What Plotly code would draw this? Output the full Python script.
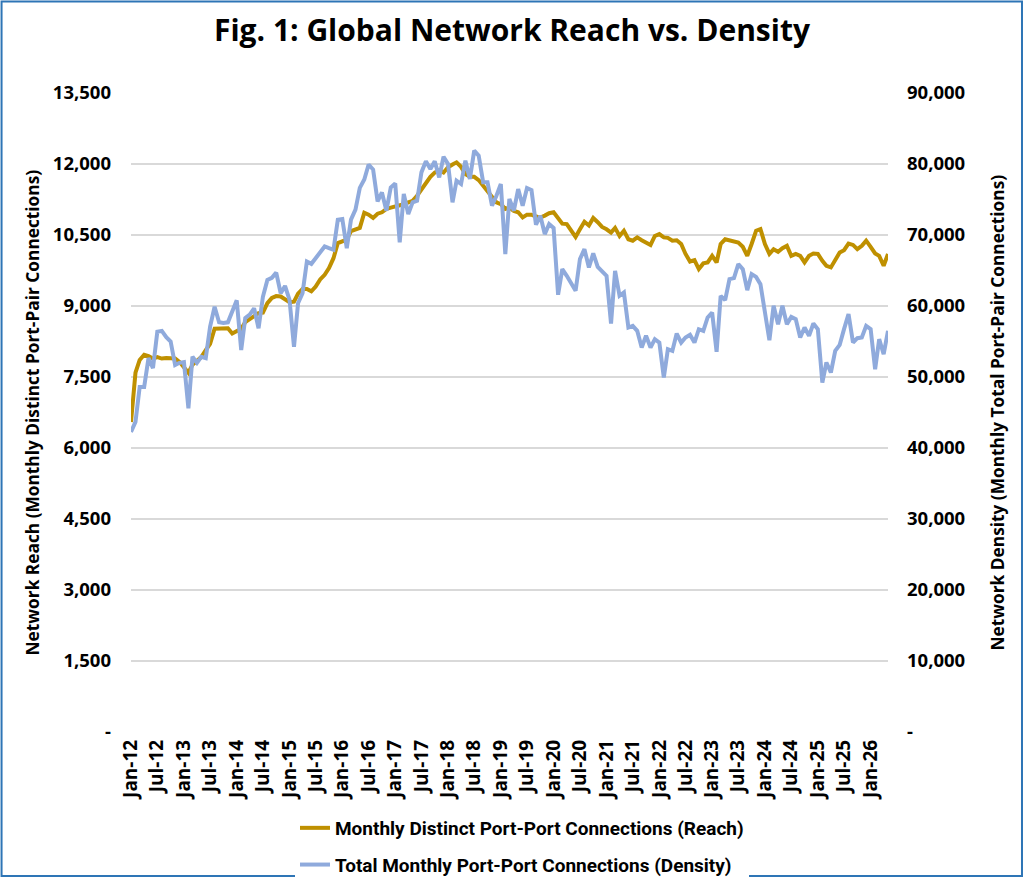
import pandas as pd
import plotly.graph_objects as go

# monthly series Jan-12 .. May-26
months = pd.date_range("2012-01-01", periods=173, freq="MS")

reach = [
    6550, 7590, 7860, 7970, 7940, 7890, 7920, 7890, 7900, 7900, 7890, 7820,
    7720, 7590, 7760, 7850, 7920, 8070, 8200, 8520, 8530, 8530, 8530, 8420,
    8480, 8520, 8660, 8730, 8800, 8850, 8860, 9060, 9170, 9210, 9200, 9130,
    9080, 9090, 9260, 9360, 9360, 9310, 9410, 9560, 9660, 9800, 10010, 10330,
    10370, 10400, 10580, 10610, 10650, 10970, 10930, 10860, 10950, 10980, 11050, 11080,
    11100, 11120, 11150, 11190, 11220, 11330, 11470, 11610, 11730, 11820, 11870, 11820,
    11930, 11990, 12035, 11940, 11790, 11730, 11730, 11660, 11540, 11440, 11330, 11190,
    11150, 11050, 11080, 11010, 10980, 10870, 10930, 10930, 10890, 10870, 10910, 10960,
    10980, 10870, 10740, 10730, 10600, 10460, 10620, 10780, 10700, 10860, 10770, 10670,
    10620, 10550, 10650, 10480, 10590, 10410, 10380, 10450, 10390, 10340, 10290, 10480,
    10520, 10450, 10440, 10380, 10390, 10310, 10100, 9940, 9970, 9780, 9900, 9920,
    10060, 9920, 10310, 10410, 10380, 10370, 10340, 10250, 10060, 10310, 10590, 10625,
    10310, 10100, 10200, 10145, 10220, 10270, 10060, 10100, 10060, 9920, 10060, 10110,
    10100, 9955, 9850, 9815, 9955, 10130, 10180, 10320, 10290, 10200, 10270, 10380,
    10250, 10110, 10060, 9850, 10100,
]

density = [
    42260, 43670, 48600, 48600, 52660, 51250, 56380, 56500, 55600, 55000, 51680, 52000,
    52100, 45600, 52850, 52000, 52850, 52660, 57100, 59900, 57700, 57600, 57700, 59400,
    60800, 53800, 58300, 58800, 59680, 56860, 61300, 63680, 63970, 64700, 61800, 62830,
    60860, 54260, 60390, 61800, 66270, 65940, 66740, 67680, 68390, 68150, 67920, 72160,
    72250, 68150, 72160, 73570, 76630, 77810, 79930, 79220, 74740, 76000, 73420, 76700,
    77270, 68950, 75770, 72950, 74600, 74830, 78820, 80380, 79300, 80380, 78120, 81030,
    80000, 74600, 77650, 77180, 80470, 77880, 81880, 81180, 77420, 77420, 74130, 75500,
    77180, 67310, 75070, 73420, 76470, 74130, 76620, 76330, 71450, 72710, 70130, 71540,
    70980, 61580, 65190, 64250, 63080, 62140, 66600, 68010, 65430, 67400, 65520, 64960,
    64250, 57530, 64960, 61440, 61900, 56970, 57200, 56500, 54150, 55800, 54150, 55330,
    54850, 49920, 53920, 53680, 56120, 54850, 55560, 55940, 54850, 56730, 56500, 58380,
    59080, 53540, 61430, 60820, 63780, 63930, 65900, 65190, 62230, 64490, 64100, 63080,
    59320, 55180, 60030, 57440, 60030, 57440, 58470, 58150, 55560, 56970, 55800, 57530,
    56740, 49220, 52040, 50630, 53680, 54530, 56740, 58850, 54860, 55470, 55560, 57200,
    56740, 51100, 55330, 53210, 56500,
]

left_ticks = [0, 1500, 3000, 4500, 6000, 7500, 9000, 10500, 12000, 13500]
left_text = ["-"] + [f"{v:,}" for v in left_ticks[1:]]
right_ticks = [0, 10000, 20000, 30000, 40000, 50000, 60000, 70000, 80000, 90000]
right_text = ["-"] + [f"{v:,}" for v in right_ticks[1:]]

left_title = "Network Reach (Monthly Distinct Port-Pair Connections)"
right_title = "Network Density (Monthly Total Port-Pair Connections)"

font = "Open Sans"

fig = go.Figure()
fig.add_trace(go.Scatter(
    x=months, y=reach, mode="lines", yaxis="y",
    name="Monthly Distinct Port-Port Connections (Reach)",
    line=dict(color="#BF9000", width=4), legendgroup="a",
))
fig.add_trace(go.Scatter(
    x=months, y=density, mode="lines", yaxis="y2",
    name="Total Monthly Port-Port Connections (Density)",
    line=dict(color="#8FAADC", width=4), legendgroup="b",
))

# the page is photographed 1:1 from the top, chart drawn in the top 878 px
fig.update_layout(
    width=1024, height=899,
    margin=dict(l=131, r=136, t=93, b=167),
    paper_bgcolor="white", plot_bgcolor="white",
    title=dict(text="<b>Fig. 1: Global Network Reach vs. Density</b>",
               x=0.5, xanchor="center", y=1 - 30 / 899, yanchor="middle",
               font=dict(family=font, size=30, color="black")),
    xaxis=dict(
        type="date", range=[months[0], months[-1]],
        tickformat="%b-%y", dtick="M6", tick0="2012-01-01",
        tickangle=-90, showgrid=False, showline=False, ticks="",
        automargin=False, ticklabelstandoff=3,
        tickfont=dict(family=font, size=19, color="black", weight="bold"),
    ),
    yaxis=dict(
        range=[0, 13500], tickvals=left_ticks, ticktext=left_text,
        showgrid=True, gridcolor="#D9D9D9", gridwidth=1.5,
        zeroline=False, showline=False, ticks="", ticklabelstandoff=19,
        automargin=False,
        tickfont=dict(family=font, size=18.5, color="black", weight="bold"),
    ),
    yaxis2=dict(
        range=[0, 90000], tickvals=right_ticks, ticktext=right_text,
        overlaying="y", side="right", showgrid=False, zeroline=False,
        showline=False, ticks="", ticklabelstandoff=18,
        automargin=False,
        tickfont=dict(family=font, size=18.5, color="black", weight="bold"),
    ),
    legend=dict(
        orientation="v", x=0.5165, xanchor="center", y=-0.1205, yanchor="top",
        font=dict(family="Roboto", size=19, color="black", weight="bold"),
        tracegroupgap=9, itemwidth=30,
    ),
    showlegend=True,
)

# axis titles as rotated annotations so they sit where the reference has them
fig.add_annotation(text=f"<b>{left_title}</b>", textangle=-90,
                   xref="paper", yref="paper", x=-0.1295, y=0.5,
                   xanchor="center", yanchor="middle", showarrow=False,
                   font=dict(family=font, size=17.3, color="black"))
fig.add_annotation(text=f"<b>{right_title}</b>", textangle=-90,
                   xref="paper", yref="paper", x=1.144, y=0.5,
                   xanchor="center", yanchor="middle", showarrow=False,
                   font=dict(family=font, size=17.3, color="black"))

# blue frame round the whole chart
fig.add_shape(type="rect", xref="paper", yref="paper",
              x0=-0.171, x1=1.177, y0=-0.2254, y1=1.143,
              line=dict(color="#2E75B6", width=2), fillcolor="rgba(0,0,0,0)",
              layer="below")

# drop the default page margin so the figure fills the window
fig.write_html("out.html", config={"displayModeBar": False},
               post_script="document.body.style.margin='0';"
                           "document.body.style.overflow='hidden';")
